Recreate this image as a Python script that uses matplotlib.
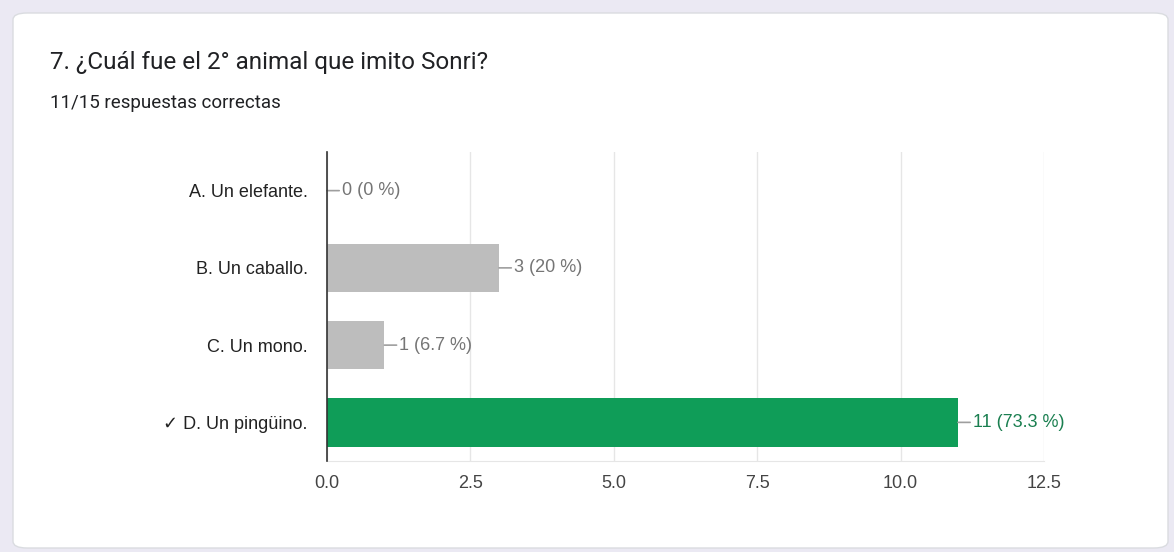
import matplotlib.pyplot as plt
from matplotlib.patches import FancyBboxPatch

options = ['A. Un elefante.', 'B. Un caballo.', 'C. Un mono.', '✓ D. Un pingüino.']
counts = [0, 3, 1, 11]
pcts = ['0 %', '20 %', '6.7 %', '73.3 %']
correct = [False, False, False, True]
x_ticks = [0.0, 2.5, 5.0, 7.5, 10.0, 12.5]

plt.rcParams['font.family'] = ['Liberation Sans', 'DejaVu Sans']

fig = plt.figure(figsize=(11.74, 5.52), dpi=100)
fig.patch.set_facecolor('#ebe9f3')

# card
card = FancyBboxPatch((13 / 1174, 4 / 552), 1155 / 1174, 535 / 552,
                      boxstyle='round,pad=0,rounding_size=0.012',
                      transform=fig.transFigure, facecolor='white',
                      edgecolor='#dadce0', linewidth=1, zorder=-5)
fig.patches.append(card)

fig.text(50 / 1174, 1 - 62 / 552, '7. ¿Cuál fue el 2° animal que imito Sonri?',
         fontsize=17.5, color='#202124', va='center', family=['Roboto', 'DejaVu Sans'])
fig.text(50 / 1174, 1 - 103 / 552, '11/15 respuestas correctas',
         fontsize=13.5, color='#202124', va='center', family=['Roboto', 'DejaVu Sans'])

ax = fig.add_axes([327 / 1174, 1 - 461 / 552, 717 / 1174, 309 / 552])
ax.set_facecolor('none')

y = list(range(len(options)))
colors = ['#0f9d58' if c else '#bdbdbd' for c in correct]
ax.barh(y, counts, height=0.63, color=colors, zorder=2)

for i, (v, p, c) in enumerate(zip(counts, pcts, correct)):
    tc = '#1a7f50' if c else '#757575'
    ax.annotate(f'{v} ({p})', xy=(v, i), xytext=(15, 0), textcoords='offset pixels',
                va='center', ha='left', fontsize=13, color=tc,
                arrowprops=dict(arrowstyle='-', color='#9e9e9e', lw=1.2,
                                shrinkA=0, shrinkB=0))

ax.set_xlim(0, 12.5)
ax.set_ylim(3.5, -0.5)
ax.set_yticks(y)
ax.set_yticklabels(options, fontsize=13, color='#222222')
ax.set_xticks(x_ticks)
ax.set_xticklabels([f'{t:.1f}' for t in x_ticks], fontsize=13, color='#444444')
ax.tick_params(axis='both', length=0, pad=14)
ax.tick_params(axis='x', pad=10)
ax.grid(axis='x', color='#e6e6e6', lw=1, zorder=0)
for s in ['top', 'right']:
    ax.spines[s].set_visible(False)
ax.spines['bottom'].set_color('#e6e6e6')
ax.spines['left'].set_color('#333333')
ax.spines['left'].set_linewidth(1.2)
ax.spines['left'].set_zorder(3)

fig.savefig('out.png', dpi=100)
